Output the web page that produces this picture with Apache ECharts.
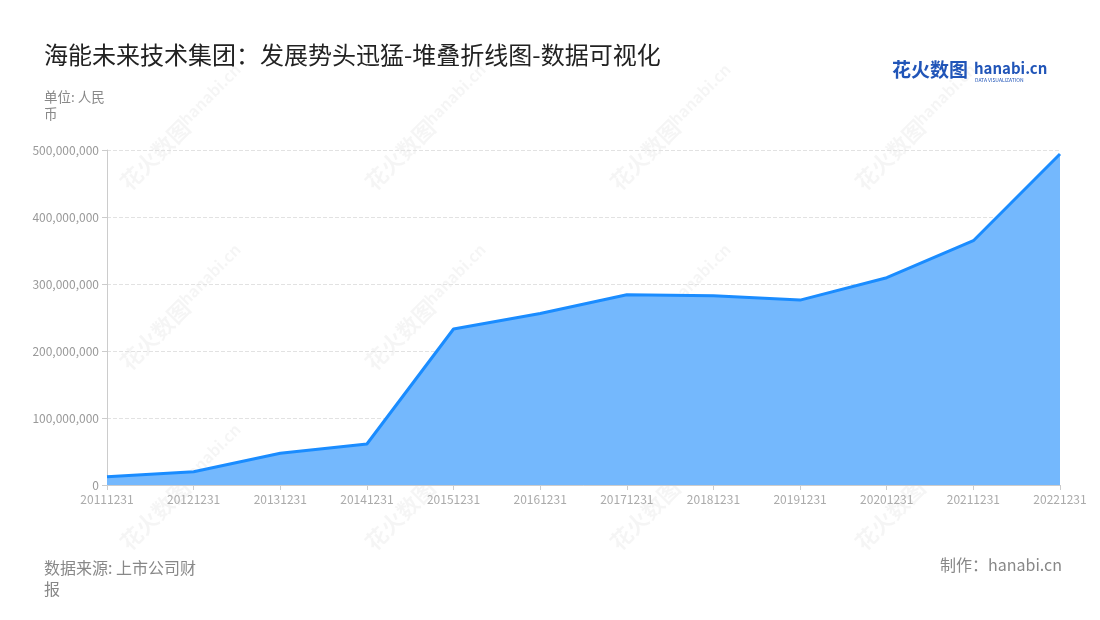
<!DOCTYPE html>
<html>
<head>
<meta charset="utf-8">
<script src="https://cdn.jsdelivr.net/npm/echarts@6/dist/echarts.min.js"></script>
<style>
  html, body { margin: 0; padding: 0; background: #fff; }
  #main { width: 1100px; height: 620px; }
</style>
</head>
<body>
<div id="main"></div>
<script>
// 海能未来技术集团 营业收入（单位：人民币）
var dates = ['20111231', '20121231', '20131231', '20141231', '20151231', '20161231',
    '20171231', '20181231', '20191231', '20201231', '20211231', '20221231'];
var revenue = [12400000, 19900000, 47300000, 61200000, 232800000, 256000000,
    284000000, 282500000, 276000000, 309400000, 364600000, 494000000];
var yTicks = [0, 100000000, 200000000, 300000000, 400000000, 500000000];

var myChart = echarts.init(document.getElementById('main'));
var fontFam = '"Noto Sans CJK SC", "Noto Sans", sans-serif';

// 水印
var marks = [];
[155, 335, 515].forEach(function (y) {
    [155, 400, 645, 890].forEach(function (x) {
        marks.push({
            type: 'group', x: x, y: y, rotation: Math.PI / 4, silent: true, z: 100,
            children: [
                { type: 'text', style: { text: '花火数图', x: 0, y: 0, fontSize: 22, fontWeight: 'bold', fill: 'rgba(0,0,0,0.04)', fontFamily: fontFam, verticalAlign: 'middle', align: 'center' } },
                { type: 'text', style: { text: 'hanabi.cn', x: 82, y: -4, fontSize: 16, fontWeight: 'bold', fill: 'rgba(0,0,0,0.04)', fontFamily: fontFam, verticalAlign: 'middle', align: 'center' } }
            ]
        });
    });
});

var option = {
    backgroundColor: '#fff',
    textStyle: { fontFamily: fontFam },
    title: {
        text: '海能未来技术集团：发展势头迅猛-堆叠折线图-数据可视化',
        left: 39, top: 38,
        textStyle: { fontSize: 24, fontWeight: 'normal', color: '#222', fontFamily: fontFam }
    },
    grid: { left: 107, right: 40, top: 150, bottom: 135 },
    xAxis: {
        type: 'category',
        data: dates,
        boundaryGap: false,
        axisLine: { lineStyle: { color: '#ccc' } },
        axisTick: { show: true, alignWithLabel: true, lineStyle: { color: '#ccc' } },
        axisLabel: { color: '#aaa', fontSize: 12, interval: 0, margin: 8 }
    },
    yAxis: {
        type: 'value',
        min: 0, max: 500000000, interval: 100000000,
        axisLine: { show: true, lineStyle: { color: '#ccc' } },
        axisTick: { show: true, lineStyle: { color: '#ccc' } },
        axisLabel: {
            color: '#999', fontSize: 12,
            formatter: function (v) { return yTicks.indexOf(v) >= 0 ? v.toLocaleString('en-US') : ''; }
        },
        splitLine: { lineStyle: { type: 'dashed', color: '#e2e2e2' } }
    },
    series: [{
        type: 'line',
        name: '营业收入',
        data: revenue,
        stack: 'total',
        symbol: 'none',
        lineStyle: { color: '#1a8cff', width: 3 },
        areaStyle: { color: '#74b8fd', opacity: 1 }
    }],
    graphic: marks.concat([
        { type: 'text', left: 44, top: 88, style: { text: '单位: 人民\n币', fontSize: 13.5, lineHeight: 17, fill: '#888', fontFamily: fontFam } },
        { type: 'text', left: 44, top: 557, style: { text: '数据来源: 上市公司财\n报', fontSize: 16, lineHeight: 21, fill: '#888', fontFamily: fontFam } },
        { type: 'text', right: 38, top: 557, style: { text: '制作：hanabi.cn', fontSize: 16, fill: '#888', fontFamily: fontFam } },
        { type: 'text', left: 892, top: 60, style: { text: '花火数图', fontSize: 19, fontWeight: 'bold', fill: '#2155b8', fontFamily: fontFam } },
        { type: 'text', left: 974, top: 61, style: { text: 'hanabi.cn', fontSize: 15, fontWeight: 'bold', fill: '#2155b8', fontFamily: fontFam } },
        { type: 'text', left: 975, top: 78, style: { text: 'DATA VISUALIZATION', fontSize: 5, fill: '#2155b8', fontFamily: fontFam } }
    ])
};
myChart.setOption(option);
window.onresize = function () { myChart.resize(); };
</script>
</body>
</html>
